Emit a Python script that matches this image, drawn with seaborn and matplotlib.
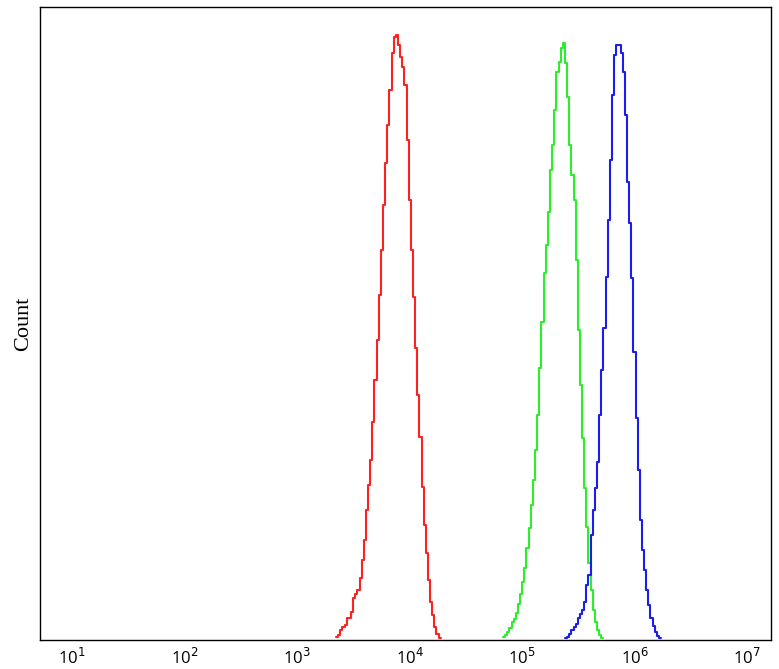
import numpy as np
import pandas as pd
import matplotlib
matplotlib.use("Agg")
import matplotlib.pyplot as plt
import seaborn as sns

# histogram channels, log10 units
bin_width = 0.019
red_start = 3.347
green_start = 4.831
blue_start = 5.382

red_counts = [3, 5, 10, 13, 15, 22, 22, 28, 42, 46, 50, 62, 80, 100, 130, 155, 180,
              218, 260, 300, 345, 390, 435, 477, 515, 550, 587, 603, 605, 595, 583,
              573, 555, 500, 440, 390, 343, 292, 245, 203, 153, 115, 87, 60, 38, 25,
              13, 6, 2]
green_counts = [3, 5, 8, 12, 18, 21, 27, 36, 46, 58, 72, 92, 112, 135, 160, 190, 225,
                272, 318, 367, 395, 428, 470, 495, 530, 568, 578, 592, 597, 577, 543,
                495, 465, 440, 380, 310, 255, 202, 152, 113, 77, 50, 30, 18, 10, 5, 2]
blue_counts = [2, 3, 6, 10, 13, 16, 22, 26, 30, 38, 55, 65, 105, 130, 152, 178, 225,
               270, 312, 363, 420, 480, 545, 585, 595, 595, 587, 568, 525, 458, 417,
               362, 288, 222, 170, 120, 90, 70, 50, 35, 22, 14, 8, 4, 2]

tick_values = [10, 100, 1000, 1e4, 1e5, 1e6, 1e7]
tick_labels = ["10$^{1}$", "10$^{2}$", "10$^{3}$", "10$^{4}$", "10$^{5}$", "10$^{6}$", "10$^{7}$"]

sns.set_style("white")

fig = plt.figure(figsize=(7.79, 6.69), dpi=100)
ax = fig.add_axes([0.0513, 0.0433, 0.9384, 0.9462])

series = [(red_start, red_counts, "#ff2020"),
          (green_start, green_counts, "#2cee2c"),
          (blue_start, blue_counts, "#1c1cf0")]
for start, counts, col in series:
    n = len(counts)
    centers = 10 ** (start + bin_width * (np.arange(n) + 0.5))
    df = pd.DataFrame({"fl": centers, "count": counts})
    sns.histplot(data=df, x="fl", weights="count", log_scale=True,
                 binwidth=bin_width, binrange=(start, start + n * bin_width),
                 element="step", fill=False, color=col, linewidth=1.5, ax=ax)

ax.set_xlim(10 ** 0.716, 10 ** 7.213)
ax.set_ylim(0, 633)
ax.set_xticks(tick_values)
ax.set_xticklabels(tick_labels, fontsize=12, fontfamily="Open Sans", color="black")
ax.minorticks_off()
ax.tick_params(axis="x", length=0, pad=6)
ax.set_yticks([])
ax.set_xlabel("")
ax.set_ylabel("Count", fontsize=16, fontfamily="Liberation Serif", labelpad=5,
              color="black")
for s in ax.spines.values():
    s.set_color("black")
    s.set_linewidth(1.0)

fig.savefig("out.png", dpi=100)
